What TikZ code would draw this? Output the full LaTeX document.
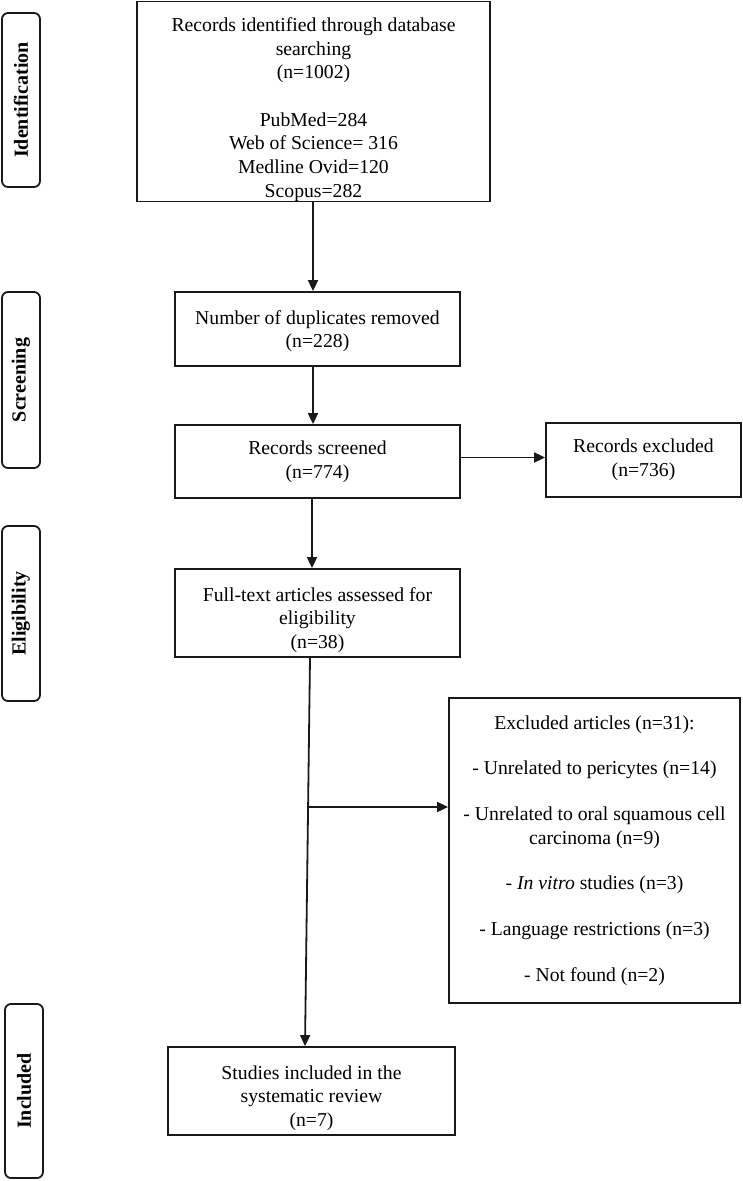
\documentclass[tikz,border=0pt]{standalone}
\usepackage{fontspec}
\setmainfont{Liberation Serif}
\usetikzlibrary{arrows.meta}
\begin{document}
\begin{tikzpicture}[x=1pt,y=-1pt,
  box/.style={draw=black!90, line width=1.8pt, rectangle, align=center, inner sep=0pt,
    font=\fontsize{19.7}{23.7}\selectfont},
  phase/.style={draw=black!90, line width=1.8pt, rounded corners=6pt, rotate=90,
    minimum height=38pt, inner sep=0pt, font=\fontsize{20}{24}\selectfont\bfseries},
  arr/.style={draw=black!90, line width=1.8pt, -{Triangle[length=11pt,width=10pt]}}]
\useasboundingbox (0,0) rectangle (743,1181);

% phase labels
\node[phase, minimum width=174pt] (pid) at (21,100) {Identification};
\node[phase, minimum width=176pt] (psc) at (21,380) {Screening};
\node[phase, minimum width=175pt] (pel) at (21,613.5) {Eligibility};
\node[phase, minimum width=174pt] (pin) at (24,1091) {Included};

% boxes
\node[box, minimum width=353pt, minimum height=199pt] (b1) at (313.5,101.5)
  {\rule{0pt}{30pt}Records identified through database\\searching\\(n=1002)\\[23.5pt]PubMed=284\\Web of Science= 316\\Medline Ovid=120\\Scopus=282};
\node[box, minimum width=285pt, minimum height=74pt] (b2) at (317.5,329)
  {\rule{0pt}{18pt}Number of duplicates removed\\(n=228)};
\node[box, minimum width=285pt, minimum height=73pt] (b3) at (317.5,461.5)
  {Records screened\\(n=774)};
\node[box, minimum width=195pt, minimum height=74pt] (b4) at (643.5,460)
  {Records excluded\\(n=736)};
\node[box, minimum width=285pt, minimum height=88pt] (b5) at (317.5,613)
  {\rule{0pt}{28pt}Full-text articles assessed for\\eligibility\\(n=38)};
\node[box, minimum width=291pt, minimum height=305pt] (b7) at (594.5,850.5)
  {Excluded articles (n=31):\\[22pt]- Unrelated to pericytes (n=14)\\[22pt]- Unrelated to oral squamous cell\\carcinoma (n=9)\\[22pt]- \textit{In vitro} studies (n=3)\\[22pt]- Language restrictions (n=3)\\[22pt]- Not found (n=2)};
\node[box, minimum width=287pt, minimum height=88pt] (b6) at (311.5,1091)
  {\rule{0pt}{28pt}Studies included in the\\systematic review\\(n=7)};

% connectors
\draw[arr] ([xshift=-0.5pt]b1.south) -- ([xshift=-4.5pt]b2.north);
\draw[arr] ([xshift=-4.5pt]b2.south) -- ([xshift=-4.5pt]b3.north);
\draw[arr] ([xshift=-5.5pt]b3.south) -- ([xshift=-5.5pt]b5.north);
\draw[arr] ([yshift=4pt]b3.east) -- ([yshift=4pt]b3.east -| b4.west);
\draw[arr] ([xshift=-7.5pt]b5.south) -- ([xshift=-6.5pt]b6.north);
\coordinate (br) at (308.5,807);
\draw[arr] (br) -- (br -| b7.west);
\end{tikzpicture}
\end{document}
